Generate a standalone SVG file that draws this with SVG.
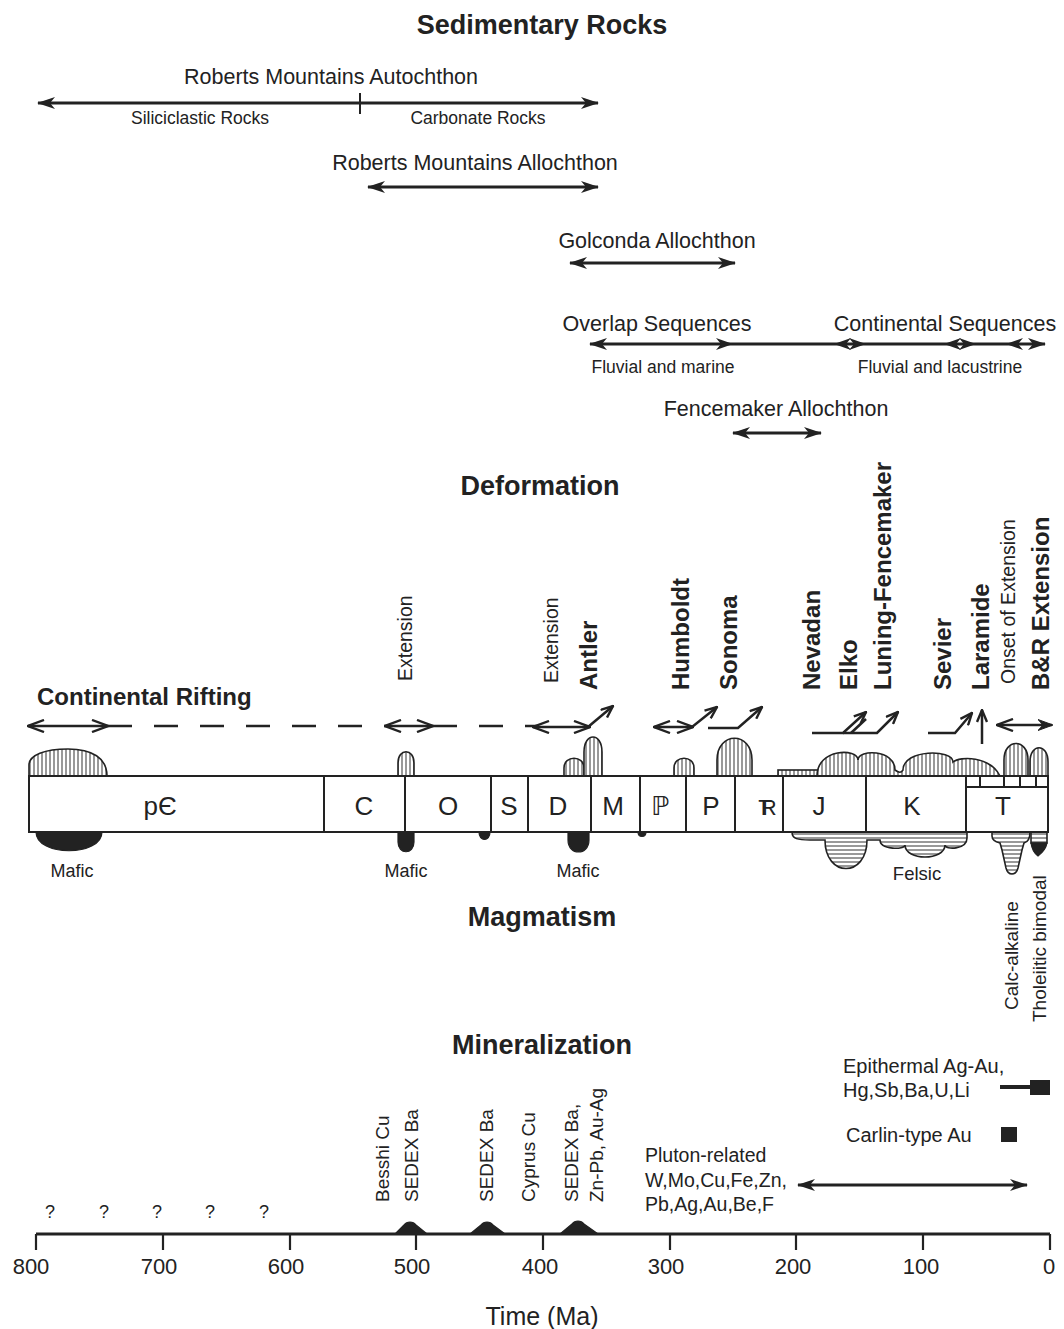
<svg xmlns="http://www.w3.org/2000/svg" xmlns:xlink="http://www.w3.org/1999/xlink" width="1064" height="1329" viewBox="0 0 1064 1329">
<defs>
<style>
text{font-family:"Liberation Sans","DejaVu Sans",Arial,sans-serif;fill:#222}
.h{font-weight:bold;font-size:27px;text-anchor:middle}
.lb{font-size:21.5px;text-anchor:middle}
.sm{font-size:17.5px;text-anchor:middle}
.rb{font-weight:bold;font-size:24px}
.rr{font-size:19.5px}
.mn{font-size:19px}
.per{font-size:26px;text-anchor:middle}
.ax{font-size:22px;text-anchor:middle}
.sa{stroke:#222;stroke-width:2.8;fill:none}
.oa{stroke:#222;stroke-width:2.5;fill:none}
.ln{stroke:#222;stroke-width:2;fill:none}
.vh{fill:url(#vh);stroke:#222;stroke-width:1.6}
.hh{fill:url(#hh);stroke:#222;stroke-width:1.6}
.blk{fill:#222;stroke:#222;stroke-width:1.2}
</style>
<pattern id="vh" width="4" height="10" patternUnits="userSpaceOnUse"><rect width="4" height="10" fill="#fff"/><line x1="2" y1="0" x2="2" y2="10" stroke="#333" stroke-width="1"/></pattern>
<pattern id="hh" width="10" height="4" patternUnits="userSpaceOnUse"><rect width="10" height="4" fill="#fff"/><line x1="0" y1="2" x2="10" y2="2" stroke="#333" stroke-width="1"/></pattern>
<marker id="sa" viewBox="0 0 18 12" refX="17" refY="6" markerWidth="18" markerHeight="12" markerUnits="userSpaceOnUse" orient="auto-start-reverse"><path d="M0,0 L18,6 L0,12 L5,6 Z" fill="#222"/></marker>
<marker id="oa" viewBox="0 0 18 14" refX="17" refY="7" markerWidth="18" markerHeight="14" markerUnits="userSpaceOnUse" orient="auto-start-reverse"><path d="M1,1 L17,7 L1,13" fill="none" stroke="#222" stroke-width="2.4"/></marker>
<marker id="ob" viewBox="0 0 14 12" refX="13" refY="6" markerWidth="14" markerHeight="12" markerUnits="userSpaceOnUse" orient="auto"><path d="M1,1 L13,6 L1,11" fill="none" stroke="#222" stroke-width="2.4"/></marker>
<marker id="sd" viewBox="0 0 15 13" refX="14" refY="6.5" markerWidth="15" markerHeight="13" markerUnits="userSpaceOnUse" orient="auto"><path d="M0,1 L15,6.5 L0,12 L5,6.5 Z" fill="#222" stroke="#222" stroke-width="1"/></marker>
<path id="hr" d="M0,0 L-17,-6 L-12,0 L-17,6 Z" fill="#222"/>
<path id="hl" d="M0,0 L17,-6 L12,0 L17,6 Z" fill="#222"/>
</defs>
<rect width="1064" height="1329" fill="#fff"/>

<g id="sedimentary">
<text class="h" x="542" y="34">Sedimentary Rocks</text>
<g id="rm-autochthon"><text class="lb" x="331" y="84">Roberts Mountains Autochthon</text>
<text class="sm" x="200" y="124">Siliciclastic Rocks</text>
<text class="sm" x="478" y="124">Carbonate Rocks</text></g>
<g id="rm-allochthon"><text class="lb" x="475" y="170">Roberts Mountains Allochthon</text></g>
<g id="golconda"><text class="lb" x="657" y="248">Golconda Allochthon</text></g>
<g id="overlap"><text class="lb" x="657" y="331">Overlap Sequences</text>
<text class="sm" x="663" y="373">Fluvial and marine</text></g>
<g id="continental"><text class="lb" x="945" y="331">Continental Sequences</text>
<text class="sm" x="940" y="373">Fluvial and lacustrine</text></g>
<g id="fencemaker"><text class="lb" x="776" y="416">Fencemaker Allochthon</text></g>
</g>

<g id="deformation">
<text class="h" x="540" y="495">Deformation</text>
<text x="37" y="705" style="font-weight:bold;font-size:24px">Continental Rifting</text>
<text class="rr" transform="translate(412,681) rotate(-90)">Extension</text>
<text class="rr" transform="translate(558,683) rotate(-90)">Extension</text>
<text class="rb" transform="translate(597,690) rotate(-90)">Antler</text>
<text class="rb" transform="translate(689,690) rotate(-90)">Humboldt</text>
<text class="rb" transform="translate(737,690) rotate(-90)">Sonoma</text>
<text class="rb" transform="translate(820,690) rotate(-90)">Nevadan</text>
<text class="rb" transform="translate(857,690) rotate(-90)">Elko</text>
<text class="rb" transform="translate(891,690) rotate(-90)">Luning-Fencemaker</text>
<text class="rb" transform="translate(951,690) rotate(-90)">Sevier</text>
<text class="rb" transform="translate(989,690) rotate(-90)">Laramide</text>
<text class="rr" transform="translate(1015,684) rotate(-90)">Onset of Extension</text>
<text class="rb" transform="translate(1049,690) rotate(-90)">B&amp;R Extension</text>
</g>

<g id="timescale">
<g id="magma-above">
<path class="vh" d="M29,776 L29,765 C29,755 45,749 68,749 C92,749 107,758 107,776 Z"/>
<path class="vh" d="M398,776 L398,763 C398,748 414,748 414,763 L414,776 Z"/>
<path class="vh" d="M564,776 L564,768 C564,755 584,755 584,768 L584,776 Z"/>
<path class="vh" d="M584,776 L584,752 C584,732 602,732 602,752 L602,776 Z"/>
<path class="vh" d="M674,776 L674,768 C674,755 694,755 694,768 L694,776 Z"/>
<path class="vh" d="M717,776 L717,760 C717,731 752,731 752,760 L752,776 Z"/>
<rect class="vh" x="778" y="770" width="40" height="6"/>
<path class="vh" d="M817,776 C817,748 858,748 858,760 C858,749 895,749 895,770 C899,773 901,773 903,770 C903,749 953,749 953,762 C960,756 990,756 1000,776 Z"/>
<path class="vh" d="M1004,776 L1004,760 C1004,738 1028,738 1028,760 L1028,776 Z"/>
<path class="vh" d="M1030,776 L1030,762 C1030,743 1048,743 1048,762 L1048,776 Z"/>
</g>
<g id="magma-below">
<path class="blk" d="M36,832 C36,857 102,857 102,832 Z"/>
<path class="blk" d="M398,832 L398,842 C398,855 414,855 414,842 L414,832 Z"/>
<path class="blk" d="M479,832 C479,842 490,842 490,832 Z"/>
<path class="blk" d="M568,832 L568,840 C568,856 589,856 589,840 L589,832 Z"/>
<path class="blk" d="M638,832 C638,838 646,838 646,832 Z"/>
<path class="hh" d="M792,832 C792,839 798,840 810,840 L825,840 C825,878 867,878 867,840 L880,840 C880,850 905,850 905,845 C905,861 945,861 945,845 C945,850 967,850 967,838 L967,832 Z"/>
<path class="hh" d="M992,832 L992,836 C992,840 996,842 1000,843 L1002,850 L1006,868 C1008,876 1016,876 1018,868 L1022,850 L1024,843 C1028,842 1030,838 1030,832 Z"/>
<path class="hh" d="M1031,832 L1031,843 L1047,843 L1047,832 Z"/>
<path class="blk" d="M1031,843 C1032,850 1035,854 1038,856 C1042,853 1046,849 1047,843 Z"/>
</g>
<g id="bar">
<rect x="29" y="776" width="1019" height="56" fill="#fff" stroke="#222" stroke-width="2"/>
<path class="ln" d="M324,776V832 M405,776V832 M491,776V832 M528,776V832 M591,776V832 M640,776V832 M686,776V832 M735,776V832 M783,776V832 M866,776V832 M966,776V832" stroke-width="1.6"/>
<path class="ln" d="M966,787H1048 M980,776V787 M1004,776V787 M1020,776V787 M1036,776V787" stroke-width="1.4"/>
<text class="per" x="160" y="815">pЄ</text>
<text class="per" x="364" y="815">C</text>
<text class="per" x="448" y="815">O</text>
<text class="per" x="509" y="815">S</text>
<text class="per" x="558" y="815">D</text>
<text class="per" x="613" y="815">M</text>
<text class="per" x="660" y="815">ℙ</text>
<text class="per" x="711" y="815">P</text>
<text class="per" x="762" y="815" style="font-size:22px;letter-spacing:-11px">TR</text>
<text class="per" x="819" y="815">J</text>
<text class="per" x="912" y="815">K</text>
<text class="per" x="1003" y="815">T</text>
</g>
<g id="magmatism-labels">
<text class="sm" x="72" y="877" style="font-size:18px">Mafic</text>
<text class="sm" x="406" y="877" style="font-size:18px">Mafic</text>
<text class="sm" x="578" y="877" style="font-size:18px">Mafic</text>
<text class="sm" x="917" y="880" style="font-size:18.5px">Felsic</text>
<text class="h" x="542" y="926">Magmatism</text>
<text class="mn" transform="translate(1018,1010) rotate(-90)">Calc-alkaline</text>
<text class="mn" transform="translate(1046,1022) rotate(-90)">Tholeiitic bimodal</text>
</g>
</g>

<g id="mineralization">
<text class="h" x="542" y="1054">Mineralization</text>
<g id="epithermal"><text x="843" y="1073" style="font-size:20px">Epithermal Ag-Au,</text>
<text x="843" y="1097" style="font-size:20px">Hg,Sb,Ba,U,Li</text>
<line x1="1000" y1="1087" x2="1032" y2="1087" stroke="#222" stroke-width="4"/>
<rect x="1030" y="1080" width="20" height="15" fill="#222"/></g>
<g id="carlin"><text x="846" y="1142" style="font-size:20px">Carlin-type Au</text>
<rect x="1001" y="1127" width="16" height="15" fill="#222"/></g>
<g id="pluton"><text x="645" y="1162" style="font-size:19.5px">Pluton-related</text>
<text x="645" y="1187" style="font-size:19.5px">W,Mo,Cu,Fe,Zn,</text>
<text x="645" y="1211" style="font-size:19.5px">Pb,Ag,Au,Be,F</text></g>
<g id="deposits">
<text class="mn" transform="translate(389,1202) rotate(-90)">Besshi Cu</text>
<text class="mn" transform="translate(418,1202) rotate(-90)">SEDEX Ba</text>
<text class="mn" transform="translate(493,1202) rotate(-90)">SEDEX Ba</text>
<text class="mn" transform="translate(535,1202) rotate(-90)">Cyprus Cu</text>
<text class="mn" transform="translate(578,1202) rotate(-90)">SEDEX Ba,</text>
<text class="mn" transform="translate(603,1202) rotate(-90)">Zn-Pb, Au-Ag</text>
<path class="blk" d="M395,1234 L404,1225 C407,1221 413,1221 416,1225 L427,1234 Z"/>
<path class="blk" d="M470,1234 L481,1225 C484,1221 490,1221 493,1225 L505,1234 Z"/>
<path class="blk" d="M560,1234 L572,1224 C575,1220 581,1220 584,1224 L598,1234 Z"/>
</g>
<g id="questions" style="font-size:18px">
<text x="50" y="1218" text-anchor="middle">?</text>
<text x="104" y="1218" text-anchor="middle">?</text>
<text x="157" y="1218" text-anchor="middle">?</text>
<text x="210" y="1218" text-anchor="middle">?</text>
<text x="264" y="1218" text-anchor="middle">?</text>
</g>
<g id="axis">
<line x1="36" y1="1234" x2="1050" y2="1234" stroke="#222" stroke-width="3"/>
<path d="M36,1234V1250 M163,1234V1250 M290,1234V1250 M416,1234V1250 M543,1234V1250 M670,1234V1250 M796,1234V1250 M923,1234V1250 M1050,1234V1250" stroke="#222" stroke-width="2.2"/>
<text class="ax" x="31" y="1274">800</text>
<text class="ax" x="159" y="1274">700</text>
<text class="ax" x="286" y="1274">600</text>
<text class="ax" x="412" y="1274">500</text>
<text class="ax" x="540" y="1274">400</text>
<text class="ax" x="666" y="1274">300</text>
<text class="ax" x="793" y="1274">200</text>
<text class="ax" x="921" y="1274">100</text>
<text class="ax" x="1049" y="1274">0</text>
<text x="542" y="1325" text-anchor="middle" style="font-size:25px">Time (Ma)</text>
</g>
</g>

<g id="connectors">
<line class="sa" x1="38" y1="103" x2="598" y2="103" marker-start="url(#sa)" marker-end="url(#sa)"/>
<line class="ln" x1="360" y1="93" x2="360" y2="114" stroke-width="1.6"/>
<line class="sa" x1="368" y1="187" x2="598" y2="187" marker-start="url(#sa)" marker-end="url(#sa)"/>
<line class="sa" x1="570" y1="263" x2="735" y2="263" marker-start="url(#sa)" marker-end="url(#sa)"/>
<line class="sa" x1="590" y1="344" x2="1045" y2="344" stroke-width="2.4" marker-start="url(#sa)" marker-end="url(#sa)"/>
<use xlink:href="#hr" x="733" y="344"/>
<use xlink:href="#hl" x="834" y="344"/>
<use xlink:href="#hr" x="866" y="344"/>
<use xlink:href="#hl" x="944" y="344"/>
<use xlink:href="#hr" x="976" y="344"/>
<use xlink:href="#hl" x="1006" y="344"/>
<line class="sa" x1="733" y1="433" x2="821" y2="433" marker-start="url(#sa)" marker-end="url(#sa)"/>
<line class="sa" x1="798" y1="1185" x2="1027" y2="1185" stroke-width="3.5" marker-start="url(#sa)" marker-end="url(#sa)"/>

<line class="oa" x1="28" y1="726" x2="108" y2="726" marker-start="url(#oa)" marker-end="url(#oa)"/>
<line class="oa" x1="108" y1="726" x2="385" y2="726" stroke-dasharray="24 22"/>
<line class="oa" x1="385" y1="726" x2="433" y2="726" marker-start="url(#oa)" marker-end="url(#oa)"/>
<line class="oa" x1="433" y1="726" x2="537" y2="726" stroke-dasharray="24 22"/>
<line class="oa" x1="533" y1="727" x2="590" y2="727" marker-start="url(#oa)" marker-end="url(#oa)"/>
<line class="oa" x1="588" y1="727" x2="613" y2="706" marker-end="url(#ob)"/>
<line class="oa" x1="654" y1="727" x2="693" y2="727" marker-start="url(#oa)" marker-end="url(#oa)"/>
<line class="oa" x1="692" y1="727" x2="717" y2="707" marker-end="url(#ob)"/>
<polyline class="oa" points="708,728 738,728 762,707" marker-end="url(#ob)"/>
<polyline class="oa" points="812,733 843,733 866,712" marker-end="url(#ob)"/>
<line class="oa" x1="851" y1="733" x2="866" y2="719"/>
<polyline class="oa" points="843,733 877,733 898,712" marker-end="url(#ob)"/>
<polyline class="oa" points="928,733 955,733 972,713" marker-end="url(#ob)"/>
<line class="oa" x1="982" y1="744" x2="982" y2="710" marker-end="url(#ob)"/>
<line class="oa" x1="997" y1="725" x2="1052" y2="725" marker-start="url(#oa)" marker-end="url(#sd)"/>
</g>
</svg>
